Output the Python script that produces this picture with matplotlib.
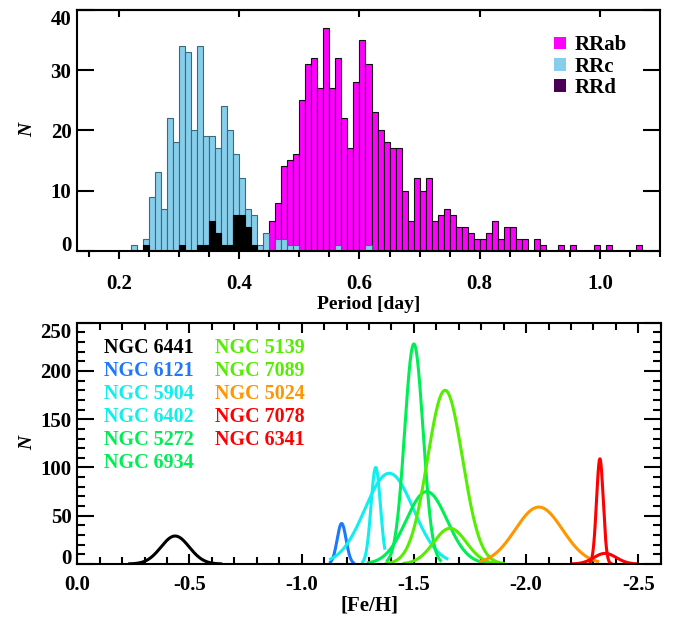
import numpy as np
import matplotlib
matplotlib.use('Agg')
import matplotlib.pyplot as plt
from matplotlib.patches import Patch
from matplotlib.ticker import FixedLocator, MultipleLocator, NullLocator

plt.rcParams['font.family'] = ['Liberation Serif', 'DejaVu Serif']
plt.rcParams['font.weight'] = 'bold'
plt.rcParams['axes.linewidth'] = 1.5

# ---------------- top panel data: period histograms (bin width 0.01 d) ----------------
bin_width = 0.01
rrab_start = 0.45
rrab_counts = [5, 8, 14, 15, 16, 25, 31, 32, 27, 37, 27, 32, 22, 17, 28, 35, 31, 23, 20, 18,
               17, 17, 10, 5, 12, 10, 12, 5, 6, 7, 6, 4, 4, 3, 2, 2, 3, 5, 2, 4,
               4, 2, 2, 0, 2, 1, 0, 0, 1, 0, 1, 0, 0, 0, 1, 0, 1, 0, 0, 0,
               0, 1]
rrc_start = 0.22
rrc_counts = [1, 0, 2, 9, 13, 7, 22, 18, 34, 33, 20, 34, 19, 19, 17, 24, 20, 16, 12, 7,
              6, 1, 3, 0, 2, 2, 1, 1, 0, 0, 0, 0, 0, 0, 1, 0, 0, 0, 0, 1]
rrd_start = 0.24
rrd_counts = [1, 0, 0, 0, 0, 0, 1, 0, 0, 1, 1, 5, 3, 1, 1, 6, 6, 4, 1]

classes = ['RRab', 'RRc', 'RRd']
class_colors = ['#FF00FF', '#87CEEB', '#4B0055']

period_ticks = [0.2, 0.4, 0.6, 0.8, 1.0]
period_ticklabels = ['0.2', '0.4', '0.6', '0.8', '1.0']
n_ticks_top = [0, 10, 20, 30, 40]
n_ticklabels_top = ['0', '10', '20', '30', '40']

# ---------------- bottom panel data: Gaussian [Fe/H] distributions ----------------
clusters = ['NGC 6441', 'NGC 6121', 'NGC 5904', 'NGC 6402', 'NGC 5272', 'NGC 6934',
            'NGC 5139', 'NGC 7089', 'NGC 5024', 'NGC 7078', 'NGC 6341']
feh_mean = [-0.436, -1.178, -1.330, -1.390, -1.500, -1.557, -1.639, -1.661, -2.057, -2.329, -2.352]
feh_sigma = [0.063, 0.020, 0.021, 0.108, 0.041, 0.091, 0.078, 0.073, 0.105, 0.015, 0.050]
feh_peak = [29, 42, 100, 94, 228, 75, 180, 37, 59, 109, 11]
feh_lo = [-0.227, -1.123, -1.267, -1.123, -1.377, -1.290, -1.371, -1.450, -1.791, -2.282, -2.200]
feh_hi = [-0.646, -1.237, -1.371, -1.653, -1.623, -1.830, -1.906, -1.870, -2.326, -2.386, -2.497]
cluster_colors = ['#000000', '#1E78FF', '#10EEEE', '#10EEEE', '#00EE55', '#00EE55',
                  '#55EE00', '#55EE00', '#FF9600', '#FF0000', '#FF0000']

feh_ticks = [0.0, -0.5, -1.0, -1.5, -2.0, -2.5]
feh_ticklabels = ['0.0', '-0.5', '-1.0', '-1.5', '-2.0', '-2.5']
n_ticks_bot = [0, 50, 100, 150, 200, 250]
n_ticklabels_bot = ['0', '50', '100', '150', '200', '250']

# ---------------- figure ----------------
W, H = 673, 620
fig = plt.figure(figsize=(W / 100, H / 100), dpi=100)
ax1 = fig.add_axes([77 / W, 1 - 250.7 / H, 583 / W, 240.7 / H])
ax2 = fig.add_axes([77.3 / W, 1 - 564 / H, 583.4 / W, 241.3 / H])

tick_font = dict(family=['Liberation Serif', 'DejaVu Serif'], weight='bold', size=15)

# ---- top panel ----
def draw_hist(ax, start, counts, color, edge):
    left = start + bin_width * np.arange(len(counts))
    counts = np.asarray(counts)
    m = counts > 0
    ax.bar(left[m], counts[m], width=bin_width, align='edge', color=color,
           edgecolor=edge, linewidth=0.8)

draw_hist(ax1, rrab_start, rrab_counts, class_colors[0], '#111111')
draw_hist(ax1, rrc_start, rrc_counts, class_colors[1], '#3A6A80')
draw_hist(ax1, rrd_start, rrd_counts, '#000000', '#000000')

ax1.set_xlim(0.13, 1.1)
ax1.set_ylim(0, 40)
ax1.xaxis.set_major_locator(FixedLocator(period_ticks))
ax1.set_xticklabels(period_ticklabels, fontdict=tick_font)
ax1.xaxis.set_minor_locator(MultipleLocator(0.05))
ax1.yaxis.set_major_locator(FixedLocator(n_ticks_top))
ax1.set_yticklabels(n_ticklabels_top, fontdict=tick_font)
ax1.tick_params(axis='x', which='major', direction='out', length=6, width=1.5, pad=11, top=False)
ax1.tick_params(axis='x', which='minor', direction='out', length=4, width=1.5, top=False)
ax1.tick_params(axis='y', which='major', direction='in', length=12, width=1.5, pad=4,
                left=True, right=True)
sec = ax1.secondary_xaxis('top')
sec.xaxis.set_major_locator(FixedLocator(period_ticks))
sec.xaxis.set_minor_locator(NullLocator())
sec.set_xticklabels([])
sec.tick_params(axis='x', direction='in', length=5, width=1.5)
sec.spines['top'].set_linewidth(1.5)

ax1.set_xlabel('Period [day]', fontsize=14, fontweight='bold')
ax1.xaxis.set_label_coords(0.5, -0.188)
ax1.set_ylabel('N', fontsize=14, fontweight='bold', fontstyle='italic')
ax1.yaxis.set_label_coords(-0.0703, 0.5)

handles = [Patch(facecolor=c, edgecolor='none', label=l) for c, l in zip(class_colors, classes)]
ax1.legend(handles=handles, loc='upper left', bbox_to_anchor=(0.8187, 0.895),
           frameon=False, prop=dict(family='Liberation Serif', weight='bold', size=15),
           handlelength=0.56, handleheight=0.56, handletextpad=0.4, labelspacing=0.06,
           borderpad=0, borderaxespad=0)

# ---- bottom panel ----
for name, mu, sg, pk, lo, hi, col in zip(clusters, feh_mean, feh_sigma, feh_peak,
                                          feh_lo, feh_hi, cluster_colors):
    x = np.linspace(lo, hi, 300)
    y = pk * np.exp(-0.5 * ((x - mu) / sg) ** 2)
    ax2.plot(x, y, color=col, lw=2.2, label=name, solid_capstyle='butt')

ax2.set_xlim(0, -2.6)
ax2.set_ylim(0, 250)
ax2.xaxis.set_major_locator(FixedLocator(feh_ticks))
ax2.set_xticklabels(feh_ticklabels, fontdict=tick_font)
ax2.xaxis.set_minor_locator(MultipleLocator(0.1))
ax2.yaxis.set_major_locator(FixedLocator(n_ticks_bot))
ax2.set_yticklabels(n_ticklabels_bot, fontdict=tick_font)
ax2.yaxis.set_minor_locator(MultipleLocator(10))
ax2.tick_params(axis='x', which='major', direction='in', length=7, width=1.5, pad=8,
                top=True, bottom=True)
ax2.tick_params(axis='x', which='minor', direction='in', length=5, width=1.5,
                top=True, bottom=True)
ax2.tick_params(axis='y', which='major', direction='in', length=12, width=1.5, pad=4,
                left=True, right=True)
ax2.tick_params(axis='y', which='minor', direction='in', length=6, width=1.5,
                left=True, right=True)
ax2.set_xlabel('[Fe/H]', fontsize=15, fontweight='bold')
ax2.xaxis.set_label_coords(0.5, -0.1285)
ax2.set_ylabel('N', fontsize=14, fontweight='bold', fontstyle='italic')
ax2.yaxis.set_label_coords(-0.0708, 0.5)

leg = ax2.legend(loc='upper left', bbox_to_anchor=(0.046, 0.935), ncol=2, frameon=False,
                 prop=dict(family='Liberation Serif', weight='bold', size=14.4),
                 handlelength=0, handletextpad=0, columnspacing=1.05, labelspacing=0.15,
                 borderpad=0, borderaxespad=0, labelcolor='linecolor')
for h in leg.legend_handles:
    h.set_visible(False)

# end tick labels sit inside the axis range, as in the original
for ax in (ax1, ax2):
    labs = ax.get_yticklabels()
    labs[0].set_verticalalignment('baseline')
    labs[-1].set_verticalalignment('top')

fig.savefig('out.png', dpi=100)
